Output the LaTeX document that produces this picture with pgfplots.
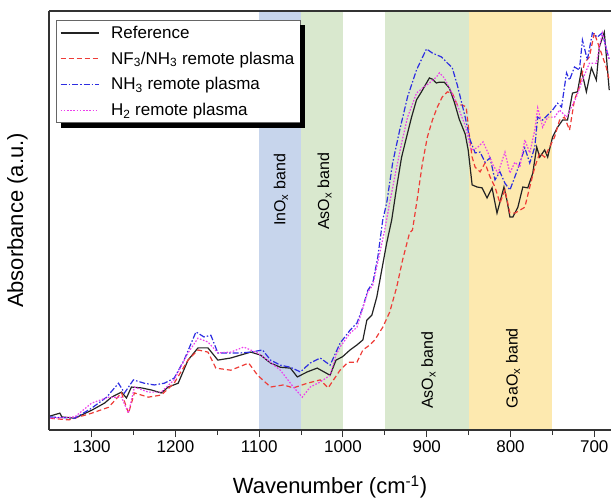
\documentclass[border=0pt]{standalone}
\usepackage{fontspec}
\setmainfont{Liberation Sans}
\usepackage{pgfplots}
\pgfplotsset{compat=1.18}

\definecolor{bandblue}{RGB}{199,213,236}
\definecolor{bandgreen}{RGB}{217,232,206}
\definecolor{bandorange}{RGB}{253,233,175}
\definecolor{cref}{RGB}{35,35,35}
\definecolor{cnf}{RGB}{238,60,55}
\definecolor{cnh}{RGB}{45,45,225}
\definecolor{chh}{RGB}{236,64,236}

\begin{document}
\begin{tikzpicture}
\begin{axis}[
  scale only axis,
  width=562pt, height=419pt,
  x dir=reverse,
  xmin=680, xmax=1351,
  ymin=0.5, ymax=100,
  axis x line=box, axis y line=left,
  axis line style={-, draw=black!80, line width=1.1pt},
  axis on top,
  xtick={700,800,...,1300},
  minor x tick num=1,
  xtick pos=left,
  tick align=outside,
  major tick length=7pt, minor tick length=5pt,
  every tick/.style={black!80, line width=1pt},
  ytick=\empty,
  /pgf/number format/1000 sep={},
  /pgf/number format/assume math mode=true,
  tick label style={font=\fontsize{17}{17}\selectfont},
  xlabel={Wavenumber (cm\textsuperscript{-1})},
  ylabel={Absorbance (a.u.)},
  label style={font=\fontsize{22}{22}\selectfont},
  xlabel style={at={(axis description cs:0.5,-0.136)}, anchor=center},
  ylabel style={at={(axis description cs:-0.056,0.5)}, anchor=center},
  legend style={name=leg, at={(axis description cs:0.0125,0.978)}, anchor=north west,
    draw=black!60, fill=white, line width=0.6pt,
    font=\fontsize{17}{17}\selectfont, row sep=8pt, inner sep=3.5pt},
  legend cell align=left,
  legend image code/.code={\draw[#1, line width=1.4pt] (0pt,0pt) -- (38pt,0pt); \path (48pt,0pt);},
]
\coordinate (bl) at (rel axis cs:0,0);
\coordinate (tr) at (rel axis cs:1,1);

% bands
\addplot[draw=none, fill=bandblue, forget plot] coordinates {(1100,0) (1100,100) (1050,100) (1050,0)} -- cycle;
\addplot[draw=none, fill=bandgreen, forget plot] coordinates {(1050,0) (1050,100) (1000,100) (1000,0)} -- cycle;
\addplot[draw=none, fill=bandgreen, forget plot] coordinates {(950,0) (950,100) (850,100) (850,0)} -- cycle;
\addplot[draw=none, fill=bandorange, forget plot] coordinates {(850,0) (850,100) (750,100) (750,0)} -- cycle;

% Reference
\addplot[draw=cref, line width=1.2pt] coordinates {
(1350,3.8) (1338,4.5) (1335.6,3.6) (1320.2,3.3) (1300,5.2) (1284.6,6.9) (1276.3,8.3)
(1264.4,9.5) (1258.5,8.1) (1252.6,10.7) (1240.7,10.5) (1228.8,10.0) (1217,9.3)
(1208.7,10.7) (1196.8,11.6) (1185,17.1) (1173.1,20.0) (1161.2,20.0) (1149.4,17.1)
(1133.9,17.6) (1122.1,18.3) (1110.2,19.0) (1098.4,18.3) (1086.5,16.4) (1074.7,15.4)
(1062.8,15.2) (1054.5,13.1) (1042.6,14.3) (1030.8,15.2) (1015.4,13.5) (1008.3,17.1)
(1000.5,17.9) (991.6,19.5) (983.3,20.7) (976.2,21.9) (971.5,26.6) (965.5,27.8)
(959.6,32.1) (953.7,38.5) (947.8,44.9) (941.8,50.4) (935.9,58.2) (930,65.3)
(924,70.1) (918.1,74.8) (912.2,78.9) (906.3,80.8) (900.3,82.9) (896.8,84.1)
(893.2,83.8) (888.5,82.9) (884.9,83.1) (879,83.1) (873,81.7) (867.1,78.4)
(861.2,74.3) (854.1,70.8) (850.5,67.0) (845.8,58.7) (839.8,58.2) (833.9,58.0)
(828,55.6) (822,58.0) (816.1,52.0) (812.6,54.6) (807.8,58.2) (804.3,55.1)
(800.7,51.1) (797.1,51.1) (791.2,53.4) (785.3,58.2) (779.3,58.0) (773.4,61.5)
(768.7,67.7) (765.1,65.3) (759.2,67.0) (755.6,65.3) (749.7,70.1) (743.8,72.4)
(737.8,74.1) (731.9,74.1) (726,80.5) (720,80.8) (715.3,86.0) (709.4,80.8)
(703.4,86.5) (697.5,83.6) (694,91.4) (688,95.0) (682.1,81.2)
};
\addlegendentry{Reference}

% NF3/NH3
\addplot[draw=cnf, line width=1.2pt, dash pattern=on 5pt off 3pt] coordinates {
(1350,3.3) (1327.3,2.9) (1300,4.5) (1279.8,5.9) (1264.4,9.3) (1256.1,4.5)
(1249,9.3) (1232.4,8.3) (1217,8.8) (1201.6,11.6) (1185,17.1) (1173.1,19.5)
(1161.2,19.0) (1151.8,15.2) (1133.9,14.7) (1112.6,16.4) (1101.9,13.5) (1086.5,10.7)
(1071.1,11.2) (1059.2,10.5) (1042.6,11.6) (1027.2,12.4) (1017.7,10.5) (1003.5,14.7)
(994,16.6) (983.3,16.6) (976.2,19.5) (967.9,20.7) (962,21.9) (952.5,24.9)
(944.2,28.5) (935.9,34.4) (928.8,40.9) (920.5,47.3) (917,48.0) (911,55.8)
(905.1,63.9) (899.2,70.1) (893.2,74.1) (887.3,77.2) (881.4,79.6) (875.4,80.8)
(869.5,80.5) (863.5,77.7) (857.6,77.7) (852.9,77.2) (849.3,70.8) (845.8,65.3)
(842.2,62.9) (836.3,61.8) (830.4,63.9) (824.4,60.6) (818.5,58.2) (812.6,54.4)
(806.6,57.5) (800.7,52.0) (794.8,52.0) (788.8,52.7) (782.9,53.4) (777,58.2)
(771,62.9) (765.1,66.3) (759.2,65.3) (753.3,67.7) (747.3,70.1) (741.4,74.1)
(735.5,74.8) (729.5,71.7) (723.6,78.9) (717.7,81.9) (711.8,87.6) (705.8,89.1)
(699.9,94.8) (694,91.4) (685.7,86.7) (682.1,83.6)
};
\addlegendentry{NF\textsubscript{3}/NH\textsubscript{3} remote plasma}

% NH3
\addplot[draw=cnh, line width=1.2pt, dash pattern=on 6pt off 2pt on 1.5pt off 2pt] coordinates {
(1350,3.6) (1320.2,3.3) (1300,5.7) (1282.2,8.3) (1268,11.6) (1260.9,9.3)
(1250.2,12.4) (1237.1,11.6) (1225.3,11.2) (1213.4,11.6) (1201.6,12.8) (1189.7,17.1)
(1175.5,23.8) (1166,22.6) (1157.7,23.0) (1149.4,18.8) (1133.9,18.8) (1122.1,18.8)
(1110.2,19.0) (1096,19.5) (1086.5,17.1) (1074.7,15.9) (1062.8,15.4) (1050.9,14.3)
(1039.1,16.4) (1027.2,17.6) (1015.4,15.9) (1003.5,21.1) (991.6,24.2) (983.3,25.9)
(976.2,29.7) (970.3,33.7) (964.4,35.4) (958.4,41.6) (952.5,50.4) (947.8,54.4)
(940.7,63.9) (932.3,71.7) (922.9,79.6) (912.2,86.0) (900.3,91.0) (893.2,90.0)
(882.5,89.1) (876.6,87.9) (869.5,86.5) (863.5,82.4) (860,79.6) (854.1,74.8)
(848.2,69.4) (842.2,66.3) (836.3,66.5) (830.4,64.1) (824.4,65.1) (818.5,59.9)
(812.6,61.8) (806.6,59.1) (800.7,57.5) (794.8,60.6) (788.8,63.9) (782.9,67.5)
(777,63.9) (771,67.7) (767.5,74.8) (761.6,74.1) (755.6,75.3) (749.7,76.5)
(743.8,78.1) (739,77.2) (733.1,85.3) (729.5,83.6) (723.6,86.7) (717.7,86.0)
(714.1,93.1) (708.2,88.4) (702.2,94.8) (696.3,93.8) (690.4,94.8) (682.1,88.4)
};
\addlegendentry{NH\textsubscript{3} remote plasma}

% H2
\addplot[draw=chh, line width=1.2pt, dash pattern=on 1.6pt off 1.6pt] coordinates {
(1350,3.3) (1320.2,3.6) (1300,6.9) (1279.8,8.3) (1264.4,8.3) (1256.1,4.5)
(1249,10.7) (1232.4,9.5) (1217,9.5) (1201.6,12.4) (1185,18.8) (1173.1,22.3)
(1161.2,21.4) (1149.4,18.8) (1133.9,19.0) (1118.5,20.2) (1101.9,18.8) (1090.1,17.1)
(1074.7,14.7) (1059.2,10.7) (1048.6,8.3) (1039.1,10.7) (1027.2,11.9) (1015.4,13.5)
(1008.3,18.3) (1003.5,20.2) (991.6,23.5) (983.3,24.9) (976.2,29.5) (970.3,33.3)
(964.4,34.9) (956.1,42.5) (950.2,48.0) (944.3,54.4) (935.9,62.9) (930,68.6)
(922.9,74.8) (912.2,80.5) (905.1,81.7) (896.8,82.9) (888.5,84.3) (884.9,85.3)
(879,84.1) (870.7,80.8) (863.5,77.7) (857.6,74.6) (854.1,72.9) (847,67.0)
(839.8,67.5) (832.7,68.9) (826.8,66.3) (820.8,63.4) (814.9,61.5) (806.6,66.5)
(800.7,61.5) (794.8,64.1) (788.8,62.9) (782.9,69.4) (777,66.3) (771,71.7)
(767.5,77.0) (761.6,72.4) (755.6,74.8) (747.3,74.8) (741.4,76.5) (733.1,74.8)
(727.1,77.2) (721.2,79.6) (714.1,83.6) (705.8,87.6) (697.5,87.6) (690.4,94.8)
(682.1,88.4)
};
\addlegendentry{H\textsubscript{2} remote plasma}

\node[rotate=90, font=\fontsize{16}{16}\selectfont] at (axis cs:1074,57.5) {InO\textsubscript{x} band};
\node[rotate=90, font=\fontsize{16}{16}\selectfont] at (axis cs:1022,57.2) {AsO\textsubscript{x} band};
\node[rotate=90, font=\fontsize{16}{16}\selectfont] at (axis cs:898,14.7) {AsO\textsubscript{x} band};
\node[rotate=90, font=\fontsize{16}{16}\selectfont] at (axis cs:797,15.2) {GaO\textsubscript{x} band};
\end{axis}
% legend shadow (the visible L-shaped part)
\fill[black] ([yshift=-5pt]leg.north east) rectangle ([xshift=5pt,yshift=-5pt]leg.south east);
\fill[black] ([xshift=5pt]leg.south west) rectangle ([xshift=5pt,yshift=-5pt]leg.south east);
\pgfresetboundingbox
\path ([xshift=-49pt,yshift=-69pt]bl) rectangle ([yshift=11pt]tr);
\end{tikzpicture}
\end{document}
